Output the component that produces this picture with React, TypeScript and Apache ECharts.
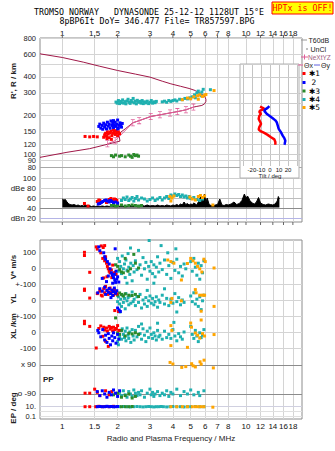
import React, { useEffect, useRef } from "react";
import * as echarts from "echarts";

// ---------------- ticks ----------------
const freqTicksTop = [1, 1.5, 2, 3, 4, 5, 6, 7, 8, 10, 12, 14, 16, 18];
const freqTextTop = ["1", "1.5", "2", "3", "4", "5", "6", "7", "8", "10", "12", "14", "16", "18"];
const freqTicksMid = [1, 1.5, 2, 3, 4, 5, 6, 7, 8, 9, 10, 12, 14, 16, 18];
const freqTextMid = ["1", "1.5", "2", "3", "4", "5", "6", "7", "8", "9", "10", "12", "14", "16", "18"];
const heightTicks = [800, 600, 500, 400, 300, 250, 200, 150, 120, 100, 90, 80];
const heightText = ["800", "600", "", "400", "300", "", "200", "150", "120", "100", "90", "80"];
const dbTicks = [100, 80, 60, 40, 20];
const dbText = ["100", "dBe 80", "60", "40", "dBn 20"];
const vTicks = [100, 0, -100];
const vText = ["100", "0", "+-100"];
const ylTicks = [0, -100];
const ylText = ["0", "+-100"];
const xlTicks = [0, -100];
const xlText = ["0", "-100"];
const ppTicks = [90, -90];
const ppText = ["x 90", "o -90"];
const epTicks = [10, 1, 0.1];
const epText = ["10.", "", "0.1"];
const tiltTicks = [-30, -20, -10, 0, 10, 20, 30];
const tiltText = ["", "-20", "-10", "0", "10", "20", ""];
const insetHeights = [500, 400, 300, 250, 200, 150, 120, 100, 90];

// ---------------- profile (f MHz, h km) ----------------
const profileR = [
  [0.756, 603], [1.0, 565], [1.3, 520], [1.6, 483], [2.0, 448], [2.5, 420], [3.0, 398], [3.5, 370],
  [3.9, 353], [4.4, 338], [4.9, 325], [5.3, 313], [5.6, 300], [5.85, 288], [5.98, 279], [6.05, 268],
  [6.05, 258], [5.95, 247], [5.75, 240], [5.4, 236], [5.17, 233], [4.71, 222], [4.23, 215], [3.86, 210],
  [3.4, 203], [3.03, 197], [2.62, 183], [2.42, 176], [2.2, 158], [2.03, 145], [2.06, 127], [1.76, 120],
  [1.41, 111], [1.06, 104], [0.756, 95],
];
const profileNe = [
  [1.76, 121], [1.94, 128], [2.42, 176], [2.62, 183], [3.03, 197], [3.4, 203], [3.86, 210], [4.23, 215],
  [4.71, 222], [5.17, 233],
];

// ---------------- echoes, top panel (f, km) ----------------
const redTop = [
  [1.33, 138], [1.41, 137], [1.48, 138], [1.55, 137], [1.68, 136], [1.7, 142], [1.72, 146], [1.74, 139],
  [1.76, 150], [1.78, 144], [1.8, 135], [1.82, 148], [1.84, 152], [1.86, 140], [1.88, 146], [1.9, 155],
  [1.92, 150], [1.94, 143], [1.96, 153], [1.98, 147], [2.0, 140], [2.02, 150], [2.05, 145], [1.75, 133], [1.85, 131],
];
const blueTop = [
  [1.58, 165], [1.6, 172], [1.62, 160], [1.65, 168], [1.68, 175], [1.7, 163], [1.72, 170], [1.74, 158],
  [1.76, 178], [1.78, 166], [1.8, 172], [1.82, 160], [1.84, 182], [1.86, 168], [1.88, 175], [1.9, 162],
  [1.92, 170], [1.94, 178], [1.96, 165], [1.98, 172], [2.0, 185], [2.02, 160], [2.04, 168], [2.06, 176],
  [2.08, 170], [2.1, 163], [2.12, 174], [1.66, 157], [1.9, 183], [2.0, 158],
];
const greenTop = [
  [1.85, 98], [1.9, 96], [1.95, 99], [2.05, 97], [2.1, 98], [2.2, 96], [2.3, 99], [2.35, 97], [2.45, 100],
  [2.5, 98], [2.55, 99], [2.6, 97], [2.4, 95],
];
const cyanTop = [
  [1.96, 255], [1.99, 250], [2.02, 262], [2.05, 248], [2.08, 258], [2.1, 252], [2.13, 265], [2.16, 250],
  [2.19, 257], [2.22, 247], [2.25, 260], [2.28, 268], [2.31, 254], [2.34, 249], [2.37, 262], [2.4, 256],
  [2.43, 272], [2.46, 251], [2.5, 259], [2.53, 247], [2.56, 263], [2.6, 254], [2.64, 258], [2.68, 250],
  [2.72, 262], [2.76, 248], [2.8, 256], [2.85, 251], [2.9, 259], [2.95, 248], [3.0, 254], [3.05, 262],
  [3.1, 250], [3.15, 256], [3.2, 252], [3.25, 258], [3.5, 256], [3.6, 259], [3.7, 254], [3.8, 262],
  [3.9, 258], [4.0, 262], [4.1, 265], [4.2, 260], [4.35, 268], [4.5, 266], [4.65, 272], [4.8, 270],
  [4.95, 275], [5.1, 280], [5.25, 290], [5.4, 300], [5.5, 310], [5.6, 295], [5.75, 305], [5.85, 320],
  [6.4, 318], [5.3, 275], [5.7, 285],
];
const orangeTop = [
  [4.5, 266], [4.8, 274], [5.0, 270], [5.2, 280], [5.45, 285], [5.6, 290], [5.8, 282], [5.95, 288],
  [6.05, 292], [6.7, 313], [5.5, 268],
];
const markerText = ["✱1", "2", "✱3", "✱4", "✱5"];
const markerPos = [[1.86, 127], [2.02, 156], [2.31, 92], [3.51, 249], [5.34, 264]];

// ---------------- tilt inset (deg, km) ----------------
const thetaX = [
  [-11, 235], [-8.1, 230], [-6.3, 226], [-8.8, 222], [-11, 219], [-11.8, 213], [-9.9, 207], [-11.8, 199],
  [-12.5, 189], [-11, 180], [-9.9, 173], [-11.8, 163], [-12.5, 156], [-9.9, 151], [-6.3, 147], [-2.6, 142],
  [1.1, 136], [4.8, 131], [5.9, 125], [5.9, 119],
];
const thetaY = [
  [-0.7, 237], [-2.6, 230], [-5.2, 224], [-6.3, 218], [-3.7, 207], [-0.7, 200], [3.0, 191], [5.9, 184],
  [7.4, 178], [8.5, 168], [9.6, 158], [12.1, 149], [14.0, 140], [15.8, 134], [16.9, 128], [16.2, 121], [15.8, 119],
];

// ---------------- amplitude panel (f, dB) ----------------
const noise = [
  [1.0, 58], [1.02, 56], [1.04, 57], [1.06, 52], [1.08, 49], [1.1, 47], [1.13, 46], [1.16, 47], [1.19, 45],
  [1.22, 46], [1.25, 44], [1.28, 45], [1.31, 44], [1.34, 46], [1.37, 44], [1.4, 45], [1.44, 43], [1.48, 44],
  [1.52, 43], [1.56, 44], [1.6, 43], [1.65, 44], [1.7, 43], [1.75, 44], [1.8, 43], [1.85, 44], [1.9, 43],
  [1.95, 44], [2.0, 43], [2.1, 44], [2.2, 43], [2.3, 44], [2.4, 45], [2.5, 43], [2.6, 44], [2.7, 45],
  [2.8, 44], [2.9, 46], [3.0, 44], [3.1, 45], [3.2, 44], [3.3, 46], [3.4, 44], [3.5, 45], [3.6, 44],
  [3.7, 46], [3.8, 45], [3.9, 44], [4.0, 46], [4.1, 45], [4.2, 47], [4.3, 45], [4.4, 48], [4.5, 46],
  [4.6, 52], [4.7, 47], [4.8, 49], [4.9, 46], [5.0, 48], [5.1, 47], [5.2, 50], [5.3, 48], [5.4, 46],
  [5.5, 52], [5.6, 58], [5.7, 64], [5.75, 50], [5.85, 60], [5.95, 68], [6.05, 52], [6.15, 60], [6.3, 47],
  [6.45, 45], [6.6, 44], [6.8, 46], [7.0, 47], [7.2, 58], [7.4, 46], [7.6, 45], [7.8, 47], [8.0, 46],
  [8.3, 48], [8.6, 52], [8.9, 47], [9.2, 49], [9.5, 55], [9.8, 68], [10.0, 60], [10.2, 64], [10.5, 55],
  [10.8, 50], [11.1, 48], [11.4, 52], [11.7, 61], [12.0, 50], [12.4, 47], [12.8, 46], [13.2, 48],
  [13.6, 47], [14.0, 46], [14.4, 48], [14.8, 54], [15.0, 63], [15.2, 58],
];
const redDb = [[1.32, 49], [1.38, 44], [1.55, 53], [1.58, 56], [1.6, 55], [1.74, 51], [1.8, 57], [1.84, 59], [1.88, 56], [1.92, 58], [1.95, 57], [1.98, 55]];
const blueDb = [[1.57, 48], [1.6, 49], [1.63, 51], [1.66, 53], [1.7, 55], [1.73, 56], [1.76, 54], [1.8, 52], [1.83, 55], [1.86, 53], [1.9, 51], [1.95, 52], [2.0, 50]];
const greenDb = [[1.85, 45], [1.9, 46], [1.95, 44], [2.0, 45], [2.1, 46], [2.2, 44], [2.3, 45], [2.4, 46], [2.5, 45], [2.6, 44], [2.7, 45]];
const cyanDb = [
  [2.1, 55], [2.15, 60], [2.2, 57], [2.25, 62], [2.3, 55], [2.35, 58], [2.4, 61], [2.45, 54], [2.5, 59],
  [2.55, 63], [2.6, 56], [2.7, 60], [2.8, 58], [2.9, 54], [3.0, 57], [3.1, 60], [3.2, 55], [3.3, 58],
  [3.4, 61], [3.5, 56], [3.6, 60], [3.7, 63], [3.8, 59], [3.9, 66], [4.0, 64], [4.1, 68], [4.2, 65],
  [4.3, 67], [4.4, 63], [4.5, 66], [4.6, 62], [4.7, 64], [4.8, 60], [4.9, 63], [5.0, 59], [5.2, 61],
  [5.4, 57], [5.6, 55], [5.8, 58],
];
const orangeDb = [[3.85, 63], [3.95, 60], [4.05, 64], [3.9, 54], [4.95, 62], [5.1, 58], [5.3, 56], [5.5, 63], [5.65, 65], [5.8, 61], [5.95, 64], [6.6, 46]];

// ---------------- lower panel: V* (m/s), YL, XL (/km), PP, EP (deg) ----------------
const redV = [[1.32, 98], [1.32, 78], [1.41, -27], [1.53, 132], [1.55, 118], [1.63, 138], [1.67, 128], [1.7, 140], [1.62, 95], [1.66, 60], [1.7, 45], [1.72, 70], [1.74, 30], [1.76, 10], [1.78, -5], [1.8, -20], [1.82, -30], [1.85, -12], [1.88, 18], [1.9, -35], [1.93, -28], [1.96, -40], [1.75, -55], [1.68, -62], [1.86, -60]];
const redYL = [[1.32, 68], [1.32, 60], [1.41, 12], [1.55, 40], [1.6, 55], [1.63, 30], [1.68, 70], [1.7, 45], [1.72, 85], [1.75, 62], [1.77, 35], [1.8, 50], [1.82, 75], [1.84, 42], [1.87, 58], [1.9, 30], [1.92, 65], [1.95, 48], [1.98, 38], [1.93, -66], [2.02, -72], [1.65, 25]];
const redXL = [[1.32, 67], [1.32, 52], [1.41, 35], [1.53, -100], [1.58, 22], [1.62, 38], [1.66, -27], [1.68, 30], [1.7, 12], [1.72, -58], [1.74, 25], [1.76, 5], [1.78, -90], [1.8, 35], [1.82, 18], [1.85, 28], [1.88, 8], [1.9, 30], [1.94, 15], [1.97, 22], [2.0, 40], [2.03, 10]];
const redPP = [[1.33, -85], [1.41, -85], [1.5, -60], [1.55, -80], [1.6, -100], [1.72, -70], [1.8, -95], [1.86, -75]];
const redEP = [[1.33, 10], [1.41, 10], [1.52, 10], [1.58, 12], [1.65, 10], [1.72, 11], [1.8, 10], [1.9, 12]];

const blueV = [[1.58, 132], [1.6, 108], [1.68, 95], [1.7, 70], [1.72, 55], [1.76, 40], [1.8, 25], [1.82, -5], [1.85, -30], [1.87, -45], [1.9, -60], [1.93, -75], [1.95, -90], [1.98, -70], [2.0, -55], [1.78, -50], [1.74, -85], [1.88, -95], [1.92, -40], [1.96, -20], [1.65, -65], [2.03, -88], [1.94, 120]];
const blueYL = [[1.56, 45], [1.6, 70], [1.65, 55], [1.7, 80], [1.72, 35], [1.75, 60], [1.78, 48], [1.8, 72], [1.83, 40], [1.86, 62], [1.88, 28], [1.9, 52], [1.92, 75], [1.95, 42], [1.98, 58], [2.0, -50], [2.04, -62], [2.07, -72], [1.84, 15]];
const blueXL = [[1.56, 10], [1.58, -5], [1.62, -30], [1.66, 15], [1.7, -50], [1.72, -20], [1.75, -65], [1.78, -10], [1.8, -40], [1.83, -80], [1.86, -25], [1.88, -55], [1.9, -5], [1.93, -35], [1.96, -70], [2.0, -15], [2.03, -45]];
const bluePP = [[1.55, -75], [1.6, -100], [1.65, -70], [1.7, -90], [1.75, -110], [1.8, -80], [1.85, -95], [1.9, -65], [1.95, -85], [2.0, -105], [2.05, -70]];
const blueEP = [[1.55, 10], [1.6, 11], [1.65, 10], [1.7, 10], [1.75, 12], [1.8, 10], [1.85, 11], [1.9, 10], [1.95, 10], [2.0, 11]];

const greenV = [[1.95, 20], [2.0, 10], [2.05, -10], [2.1, -25], [2.15, -30], [2.2, 60], [2.28, -20], [2.35, -5], [2.45, 85], [2.5, 30], [2.6, 0]];
const greenYL = [[1.95, 40], [2.0, 30], [2.05, 44], [2.1, 35], [2.15, 25], [2.2, 38], [2.3, 30], [2.4, 28], [2.5, 35], [2.6, 22]];
const greenXL = [[1.95, 88], [2.0, -5], [2.05, -15], [2.1, 10], [2.2, -25], [2.3, -8], [2.4, -12], [2.5, -5], [2.6, -15]];
const greenPP = [[1.9, -95], [2.0, -85], [2.1, -110], [2.2, -100], [2.3, -90], [2.4, -115], [2.5, -105]];
const greenEP = [[1.9, 10], [2.0, 11], [2.1, 10], [2.2, 10], [2.3, 10], [2.4, 11]];

const cyanV = [[2.0, 60], [2.02, -20], [2.05, 40], [2.08, 10], [2.1, -35], [2.12, 75], [2.15, -5], [2.18, 25], [2.2, -60], [2.22, 50], [2.25, -15], [2.28, 90], [2.3, 5], [2.33, -40], [2.36, 30], [2.4, -80], [2.43, 15], [2.46, -25], [2.5, 45], [2.55, -10], [2.6, 110], [2.65, 20], [2.7, -45], [2.75, 65], [2.8, -5], [2.85, 35], [2.9, -70], [2.95, 10], [2.97, 172], [3.0, -20], [3.05, 40], [3.1, -35], [3.15, 20], [3.2, -55], [3.25, 5], [3.3, 70], [3.35, -25], [3.4, 30], [3.5, -10], [3.6, 50], [3.7, -40], [3.8, 15], [3.9, -65], [4.0, 35], [4.1, -15], [4.2, 55], [4.3, -30], [4.4, 10], [4.5, -50], [4.6, 25], [4.7, -5], [5.0, 40], [5.1, -20], [5.2, 60], [5.3, 5], [5.4, -45], [5.5, 30], [5.6, -70], [5.7, 15], [5.8, -30], [5.9, 45], [3.45, 140], [2.35, 125], [4.15, 120], [3.75, 95], [2.25, -95], [3.15, -95]];
const cyanYL = [[2.0, -10], [2.02, 20], [2.05, -25], [2.08, 5], [2.1, -40], [2.12, 30], [2.15, -15], [2.18, 10], [2.2, -55], [2.22, 40], [2.25, -5], [2.28, 15], [2.3, -30], [2.33, 25], [2.36, -20], [2.4, 50], [2.43, -10], [2.46, 5], [2.5, -35], [2.55, 20], [2.6, -15], [2.65, 35], [2.7, -50], [2.75, 0], [2.8, -25], [2.85, 15], [2.9, -40], [2.95, -5], [3.0, 25], [3.05, -20], [3.1, 10], [3.15, -30], [3.2, -10], [3.25, 20], [3.3, -45], [3.35, 0], [3.4, -15], [3.5, 30], [3.6, -25], [3.7, 10], [3.8, -35], [3.9, 5], [4.0, -20], [4.1, 40], [4.2, -10], [4.3, 15], [4.4, -30], [4.5, 0], [4.6, -15], [5.0, 25], [5.1, -10], [5.2, 45], [5.3, -25], [5.4, 5], [5.5, -40], [5.6, 20], [5.7, -60], [5.8, -5], [5.9, 30], [2.06, -75], [2.9, 60], [4.2, -75], [3.6, 70]];
const cyanXL = [[2.0, -60], [2.02, -80], [2.05, -30], [2.08, 10], [2.1, -45], [2.12, 20], [2.15, -15], [2.18, -35], [2.2, 5], [2.22, -55], [2.25, 25], [2.28, -20], [2.3, -40], [2.33, 0], [2.36, -65], [2.4, 15], [2.43, -25], [2.46, -50], [2.5, 10], [2.55, -30], [2.6, 35], [2.65, -10], [2.7, -45], [2.75, 20], [2.8, -20], [2.85, -60], [2.9, 5], [2.95, -35], [3.0, 25], [3.05, -15], [3.1, -40], [3.15, -5], [3.2, -25], [3.25, -50], [3.3, 10], [3.35, -30], [3.4, -20], [3.5, -45], [3.6, 5], [3.7, -35], [3.8, -15], [3.9, -40], [4.0, 15], [4.1, -25], [4.2, -55], [4.3, -10], [4.4, -30], [4.5, -45], [4.6, 0], [5.0, 35], [5.1, -15], [5.2, -40], [5.3, 10], [5.4, -25], [5.5, -60], [5.6, -5], [5.7, -35], [5.8, -20], [5.9, 15], [3.3, 55], [2.7, 50], [4.05, 60]];
const cyanPP = [[2.05, -80], [2.1, -100], [2.15, -70], [2.2, -95], [2.25, -110], [2.3, -75], [2.35, -90], [2.4, -105], [2.45, -65], [2.5, -85], [2.55, -100], [2.6, -80], [2.65, -95], [2.7, -70], [2.8, -110], [2.9, -85], [3.0, -60], [3.05, -95], [3.1, -80], [3.15, -105], [3.2, -90], [3.3, -75], [3.4, -100], [3.5, -85], [3.6, -95], [3.7, -70], [3.8, -105], [3.9, -80], [4.0, -90], [4.2, -60], [4.4, -100], [4.6, -75], [4.8, -90], [5.0, -65], [5.2, -95], [5.5, -80], [5.6, -100], [5.9, -70]];
const cyanEP = [[2.05, 10], [2.15, 11], [2.25, 10], [2.35, 9], [2.45, 10], [2.55, 11], [2.65, 10], [2.75, 9], [2.85, 10], [2.95, 11], [3.05, 10], [3.15, 9], [3.25, 10], [3.35, 10], [3.45, 11], [3.55, 10], [3.7, 9], [3.85, 10], [4.0, 11], [4.2, 10], [4.4, 10], [4.6, 9], [4.8, 10], [5.0, 10], [5.3, 11], [5.6, 10], [5.9, 10]];

const orangeV = [[3.75, 50], [3.9, 40], [4.05, 30], [4.45, -75], [4.8, 28], [5.0, 60], [5.15, 45], [5.3, 30], [5.45, 10], [5.6, -5], [5.75, -25], [5.9, 55], [6.0, 40], [6.7, 0]];
const orangeYL = [[3.9, -15], [5.3, 65], [5.35, 45], [5.6, 30], [5.8, 30], [5.95, 30], [6.7, -40], [5.7, -70], [4.45, -5], [3.95, 10]];
const orangeXL = [[3.9, 40], [3.95, 10], [3.9, -85], [4.8, -96], [5.0, 56], [5.05, 30], [5.3, -6], [5.45, -20], [5.6, -38], [5.8, -10], [5.95, -25], [6.7, -16], [5.7, 75]];
const orangePP = [[3.86, 106], [4.0, 96], [4.47, 75], [4.7, 80], [5.06, 98], [5.15, 85], [5.3, 78], [5.62, 110], [5.7, 95], [5.91, 120], [6.64, 72]];
const orangeEP = [[3.9, 10], [4.2, 10], [4.5, 10], [4.8, 10], [5.1, 10], [5.3, 10], [5.5, 10], [5.7, 10], [5.9, 10], [6.6, 8]];

// ---------------- styling ----------------
const FONT = "Liberation Sans, Arial, sans-serif";
const MONO = "DejaVu Sans Mono, monospace";
const RED = "#ff0000";
const BLUE = "#0000ff";
const GREEN = "#2a8a2a";
const CYAN = "#1fb0b0";
const ORANGE = "#ffa500";
const MAROON = "#a01848";
const PINK = "#e0609a";
const GRIDC = "#d4d4d4";
const FMIN = 0.756;
const FMAX = 20.18;
const PLOT_LEFT = 40;
const PLOT_WIDTH = 262;
const MID_LABEL_DB = -2; // the label row sits just below the amplitude frame, in the extended amplitude grid

const baseLabel = { fontSize: 8, fontFamily: FONT, color: "#222" };

function hMark(vals: number[], texts: string[], color: string | string[], fontSize = 8, z = 3) {
  return {
    silent: true,
    z,
    symbol: ["none", "none"],
    animation: false,
    label: { show: true, position: "start", distance: 4, ...baseLabel, fontSize },
    data: vals.map((v, i) => ({
      yAxis: v,
      lineStyle: { color: Array.isArray(color) ? color[i] : color, width: 1, type: "solid" },
      label: texts[i] ? { show: true, formatter: texts[i], color: "#222" } : { show: false },
    })),
  };
}
function vMark(vals: number[], texts: string[], color: string, position: string, distance: number, fontSize = 8, z = 3) {
  return {
    silent: true,
    z,
    symbol: ["none", "none"],
    animation: false,
    label: { show: true, position, distance, ...baseLabel, fontSize },
    lineStyle: { color, width: 1, type: "solid" },
    data: vals.map((v, i) => ({
      xAxis: v,
      label: texts[i] ? { show: true, formatter: texts[i], color: "#111" } : { show: false },
    })),
  };
}
function sc(data: number[][], color: string, idx: number, z = 4) {
  return {
    type: "scatter",
    xAxisIndex: idx,
    yAxisIndex: idx,
    data,
    symbol: "rect",
    symbolSize: 3,
    itemStyle: { color, opacity: 1 },
    z,
    silent: true,
    animation: false,
  };
}
function empty(idx: number, z: number, markLine: any) {
  return { type: "line", xAxisIndex: idx, yAxisIndex: idx, data: [], z, silent: true, markLine };
}
function txt(x: number, y: number, text: string, extra: any = {}, elExtra: any = {}) {
  return {
    type: "text", x, y, silent: true, z: 20, ...elExtra,
    style: { text, fontSize: 8, fontFamily: FONT, fill: "#222", align: "left", verticalAlign: "middle", ...extra },
  };
}

// grid boxes [left, top, width, height]
const boxes = [
  [PLOT_LEFT, 38, PLOT_WIDTH, 184], // 0 upper frame
  [PLOT_LEFT, 38, PLOT_WIDTH, 129], // 1 heights
  [PLOT_LEFT, 167, PLOT_WIDTH, 73], // 2 amplitude (extends under the frame to host the label row)
  [241, 64, 58, 102], // 3 tilt inset
  [PLOT_LEFT, 240, PLOT_WIDTH, 179], // 4 lower frame
  [PLOT_LEFT, 240, PLOT_WIDTH, 44], // 5 V*
  [PLOT_LEFT, 284, PLOT_WIDTH, 32], // 6 YL
  [PLOT_LEFT, 316, PLOT_WIDTH, 36], // 7 XL
  [PLOT_LEFT, 352, PLOT_WIDTH, 50], // 8 PP
  [PLOT_LEFT, 402, PLOT_WIDTH, 17], // 9 EP
  [241, 165, 58, 1], // 10 tilt labels
];
const yAxes = [
  { type: "value", min: 0, max: 1 },
  { type: "log", min: 80, max: 800 },
  { type: "value", min: -24, max: 122 },
  { type: "log", min: 81.5, max: 503 },
  { type: "value", min: 0, max: 1 },
  { type: "value", min: -100, max: 175 },
  { type: "value", min: -100, max: 100 },
  { type: "value", min: -125, max: 100 },
  { type: "value", min: -139.7, max: 170.7 },
  { type: "log", min: 0.0347, max: 87 },
  { type: "value", min: 0, max: 1 },
];

function freqToX(f: number) {
  const a = Math.log10(FMIN);
  const b = Math.log10(FMAX);
  return PLOT_LEFT + (PLOT_WIDTH * (Math.log10(f) - a)) / (b - a);
}

function buildOption() {
  const grid = boxes.map((b, i) => ({
    left: b[0], top: b[1], width: b[2], height: b[3],
    containLabel: false,
    outerBoundsMode: "none",
    show: i === 0 || i === 4,
    borderColor: "#8c8c8c",
    borderWidth: 1,
    backgroundColor: "transparent",
  }));
  const xAxis = boxes.map((_, i) =>
    i === 3 || i === 10
      ? { type: "value", gridIndex: i, min: -32, max: 32, show: false }
      : { type: "log", logBase: 10, gridIndex: i, min: FMIN, max: FMAX, show: false }
  );
  const yAxis = yAxes.map((a, i) => ({ ...a, gridIndex: i, show: false }));

  const series: any[] = [
    empty(0, 1, vMark(freqTicksTop, freqTextTop, GRIDC, "end", 1)),
    empty(1, 1, hMark(heightTicks, heightText, heightTicks.map((h) => (h === 80 ? "#a8a8a8" : GRIDC)), 7.5)),
    {
      type: "line", xAxisIndex: 1, yAxisIndex: 1, data: profileR, symbol: "none",
      lineStyle: { color: MAROON, width: 1 }, z: 3, silent: true,
    },
    {
      type: "line", xAxisIndex: 1, yAxisIndex: 1, data: profileNe, symbol: "path://M0,0H6V1H3.5V8H6V9H0V8H2.5V1H0Z",
      symbolSize: [4, 7], showAllSymbol: true, itemStyle: { color: PINK }, lineStyle: { color: PINK, width: 1 }, z: 3, silent: true,
    },
    sc(greenTop, GREEN, 1), sc(redTop, RED, 1), sc(blueTop, BLUE, 1), sc(cyanTop, CYAN, 1), sc(orangeTop, ORANGE, 1),
    {
      type: "scatter", xAxisIndex: 1, yAxisIndex: 1, z: 6, silent: true, symbolSize: 1, itemStyle: { opacity: 0 },
      data: markerText.map((t, i) => ({ name: t, value: markerPos[i] })),
      label: { show: true, position: "inside", formatter: "{b}", fontSize: 9, fontWeight: "bold", fontFamily: "DejaVu Sans, sans-serif", color: "#000" },
    },
    empty(2, 1, hMark(dbTicks, dbText, ["#cfcfcf", "#cfcfcf", "#bdbdbd", "#8c8c8c", "#b4b4e6"])),
    {
      type: "line", xAxisIndex: 2, yAxisIndex: 2, data: noise, symbol: "none", z: 3, silent: true,
      lineStyle: { color: "#000", width: 1 }, areaStyle: { color: "#000", opacity: 1, origin: 41 },
    },
    sc(greenDb, GREEN, 2), sc(redDb, RED, 2), sc(blueDb, BLUE, 2), sc(cyanDb, CYAN, 2), sc(orangeDb, ORANGE, 2),
    // frequency labels under the amplitude panel (placed by the amplitude grid's scales)
    {
      type: "scatter", xAxisIndex: 2, yAxisIndex: 2, z: 30, silent: true, symbolSize: 1, clip: false,
      itemStyle: { opacity: 0 },
      data: freqTicksMid.map((f, i) => ({ name: freqTextMid[i], value: [f, MID_LABEL_DB] })),
      label: { show: true, position: "inside", formatter: "{b}", fontSize: 8, fontFamily: FONT, color: "#111" },
    },
    empty(3, 11, vMark(tiltTicks, tiltTicks.map(() => ""), "#c4c4c4", "start", 0.5, 6, 15)),
    empty(3, 11, hMark(insetHeights, insetHeights.map(() => ""), "#cdcdcd", 8, 15)),
    empty(10, 11, vMark(tiltTicks, tiltText, "#c4c4c4", "start", 0.5, 6, 16)),
    {
      type: "line", xAxisIndex: 3, yAxisIndex: 3, data: thetaX, symbol: "none", z: 17, silent: true,
      lineStyle: { color: RED, width: 2.5 },
    },
    {
      type: "line", xAxisIndex: 3, yAxisIndex: 3, data: thetaY, symbol: "none", z: 17, silent: true,
      lineStyle: { color: BLUE, width: 2.5 },
    },
    empty(4, 1, vMark(freqTicksTop, freqTextTop, GRIDC, "start", 3)),
    empty(5, 1, hMark(vTicks, vText, GRIDC)),
    empty(6, 1, hMark(ylTicks, ylText, GRIDC)),
    empty(7, 1, hMark(xlTicks, xlText, GRIDC)),
    empty(8, 1, hMark(ppTicks, ppText, "#8c8c8c")),
    empty(9, 1, hMark(epTicks, epText, ["#d0d0e0", "#e0e0e0", "#e0e0e0"], 7.5)),
  ];
  const lowerSets = [
    [redV, blueV, greenV, cyanV, orangeV],
    [redYL, blueYL, greenYL, cyanYL, orangeYL],
    [redXL, blueXL, greenXL, cyanXL, orangeXL],
    [redPP, bluePP, greenPP, cyanPP, orangePP],
    [redEP, blueEP, greenEP, cyanEP, orangeEP],
  ];
  const lowerColors = [RED, BLUE, GREEN, CYAN, ORANGE];
  const drawOrder = [3, 4, 2, 0, 1];
  lowerSets.forEach((set, k) => {
    drawOrder.forEach((j) => series.push(sc(set[j], lowerColors[j], 5 + k)));
  });

  const rot = (y: number, text: string) =>
    txt(13, y, text, { align: "center", fontWeight: "bold" }, { rotation: Math.PI / 2 });
  const legendRows = [73.5, 82.5, 91, 99.5, 107.5];
  const legendNames = ["✱1", " 2", "✱3", "✱4", "✱5"];
  const tick = (x: number, y1: number, y2: number) => ({
    type: "line", z: 20, silent: true, shape: { x1: x, y1, x2: x, y2 }, style: { stroke: "#666", lineWidth: 1 },
  });

  const graphic: any[] = [
    { type: "rect", z: 8, silent: true, shape: { x: 240, y: 64, width: 59, height: 114 }, style: { fill: "#fff", stroke: "#b0b0b0", lineWidth: 1 } },
    txt(270, 175.5, "Tilt / deg", { align: "center", fontSize: 6 }),
    txt(149, 12, "TROMSO NORWAY\u00a0\u00a0\u00a0DYNASONDE 25-12-12 1128UT 15°E", { align: "center", fontFamily: MONO, fontSize: 8.3, fill: "#000" }),
    txt(157, 20.5, "8pBP6It DoY= 346.477 File= TR857597.BPG", { align: "center", fontFamily: MONO, fontSize: 8.3, fill: "#000" }),
    { type: "rect", z: 19, silent: true, shape: { x: 272, y: 2, width: 61, height: 12 }, style: { fill: "#ffff00", stroke: "#ff0000", lineWidth: 1 } },
    txt(302.5, 8.3, "HPTx is OFF!", { align: "center", fontFamily: MONO, fontSize: 8.3, fill: "#ff0000" }),
    rot(81, "R', R / km"),
    rot(267, "V* m/s"),
    rot(299, "YL"),
    rot(320, "/km"),
    rot(334, "XL"),
    rot(408, "EP / deg"),
    txt(43, 379, "PP", { fontWeight: "bold" }),
    txt(171, 438, "Radio and Plasma Frequency / MHz", { align: "center" }),
    { type: "line", z: 20, silent: true, shape: { x1: 301, y1: 40, x2: 307, y2: 40 }, style: { stroke: "#999", lineWidth: 1 } },
    txt(308.5, 40, "T60dB", { fontSize: 7 }),
    { type: "rect", z: 20, silent: true, shape: { x: 306.5, y: 48.5, width: 1, height: 1 }, style: { fill: "#000" } },
    txt(310.5, 49, "UnCl", { fontSize: 7 }),
    { type: "line", z: 20, silent: true, shape: { x1: 301, y1: 57, x2: 308, y2: 57 }, style: { stroke: PINK, lineWidth: 1 } },
    { type: "line", z: 20, silent: true, shape: { x1: 304.5, y1: 54.5, x2: 304.5, y2: 59.5 }, style: { stroke: PINK, lineWidth: 1 } },
    txt(308, 57, "NeXtYZ", { fill: "#a06080", fontSize: 6.5 }),
    { type: "line", z: 20, silent: true, shape: { x1: 298, y1: 65, x2: 303, y2: 65 }, style: { stroke: PINK, lineWidth: 1 } },
    txt(304, 65, "Θx", { fontSize: 7 }),
    { type: "line", z: 20, silent: true, shape: { x1: 314, y1: 65, x2: 320, y2: 65 }, style: { stroke: "#6060e0", lineWidth: 1 } },
    txt(321, 65, "Θy", { fontSize: 7 }),
    ...legendRows.flatMap((y, i) => [
      { type: "rect", z: 20, silent: true, shape: { x: 302.5, y: y - 1.5, width: 3, height: 3 }, style: { fill: lowerColors[i] } },
      txt(309, y, legendNames[i], { fontFamily: "DejaVu Sans, sans-serif", fontSize: 7.5, fill: "#000" }),
    ]),
    ...freqTicksMid.map((f) => tick(freqToX(f), 222, 225)),
    ...freqTicksTop.map((f) => tick(freqToX(f), 35, 38)),
  ];

  return {
    animation: false,
    backgroundColor: "#ffffff",
    grid,
    xAxis,
    yAxis,
    series,
    graphic: { elements: graphic },
  };
}

export default function App() {
  const ref = useRef<HTMLDivElement>(null);
  useEffect(() => {
    if (!ref.current) return;
    const chart = echarts.init(ref.current, null, { renderer: "svg" });
    chart.setOption(buildOption() as any);
    return () => chart.dispose();
  }, []);
  return <div ref={ref} style={{ position: "absolute", left: 0, top: 0, width: 335, height: 451 }} />;
}
